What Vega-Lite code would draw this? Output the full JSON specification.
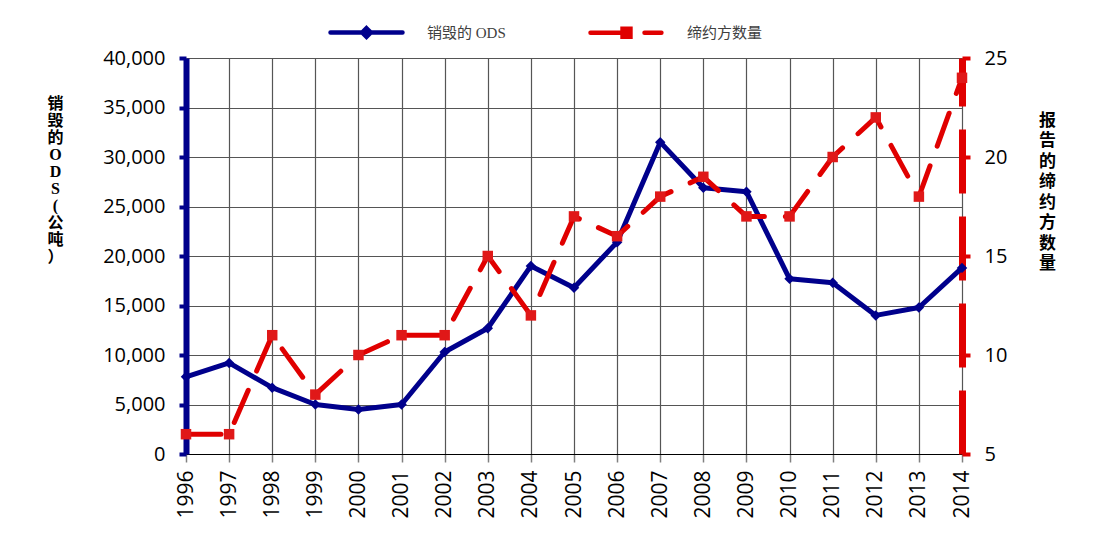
{
  "$schema": "https://vega.github.io/schema/vega-lite/v6.json",
  "width": 776,
  "height": 396,
  "autosize": {"type": "none"},
  "padding": {"left": 186, "top": 58, "right": 142, "bottom": 91},
  "background": "white",
  "config": {"view": {"stroke": null}, "font": "Open Sans"},
  "data": {"values": [
    {"year": 1996, "ods": 7800, "parties": 6},
    {"year": 1997, "ods": 9200, "parties": 6},
    {"year": 1998, "ods": 6700, "parties": 11},
    {"year": 1999, "ods": 5000, "parties": 8},
    {"year": 2000, "ods": 4500, "parties": 10},
    {"year": 2001, "ods": 5000, "parties": 11},
    {"year": 2002, "ods": 10300, "parties": 11},
    {"year": 2003, "ods": 12700, "parties": 15},
    {"year": 2004, "ods": 19000, "parties": 12},
    {"year": 2005, "ods": 16800, "parties": 17},
    {"year": 2006, "ods": 21400, "parties": 16},
    {"year": 2007, "ods": 31500, "parties": 18},
    {"year": 2008, "ods": 26900, "parties": 19},
    {"year": 2009, "ods": 26500, "parties": 17},
    {"year": 2010, "ods": 17700, "parties": 17},
    {"year": 2011, "ods": 17300, "parties": 20},
    {"year": 2012, "ods": 14000, "parties": 22},
    {"year": 2013, "ods": 14800, "parties": 18},
    {"year": 2014, "ods": 18800, "parties": 24}
  ]},
  "resolve": {"scale": {"y": "independent"}, "axis": {"y": "independent"}},
  "encoding": {
    "x": {
      "field": "year", "type": "ordinal",
      "scale": {"type": "point", "padding": 0},
      "axis": {
        "title": null, "labelAngle": 270, "labelFontSize": 21, "labelColor": "#000",
        "labelPadding": 8, "tickSize": 8, "tickColor": "#808080", "tickWidth": 1.5,
        "domainColor": "#000", "domainWidth": 1.2, "grid": true, "gridColor": "#555", "gridWidth": 1.2,
        "labelFlush": false, "labelOverlap": false
      }
    }
  },
  "layer": [
    {
      "encoding": {
        "y": {
          "field": "ods", "type": "quantitative",
          "scale": {"domain": [0, 40000], "nice": false},
          "axis": {
            "title": ["销", "毁", "的", "O", "D", "S", "(", "公", "吨", "）"],
            "titleAngle": 0, "titleX": -131, "titleY": 37, "titleAlign": "center", "titleBaseline": "top",
            "titleFontSize": 16, "titleLineHeight": 17, "titleFont": "Liberation Serif, Noto Sans CJK SC",
            "titleFontWeight": "bold", "titleColor": "#000",
            "values": [0, 5000, 10000, 15000, 20000, 25000, 30000, 35000, 40000],
            "format": ",.0f", "labelFontSize": 20, "labelPadding": 14, "labelColor": "#000", "labelFlush": false,
            "domainColor": "#00008C", "domainWidth": 6, "tickColor": "#00008C", "tickSize": 7, "tickWidth": 4,
            "grid": true, "gridColor": "#555", "gridWidth": 1.2
          }
        }
      },
      "layer": [
        {
          "mark": {"type": "line", "strokeWidth": 5, "strokeJoin": "round"},
          "encoding": {
            "color": {
              "datum": "销毁的 ODS", "type": "nominal",
              "scale": {"domain": ["销毁的 ODS", "缔约方数量"], "range": ["#00008C", "#E00000"]},
              "legend": {
                "orient": "none", "legendX": 142, "legendY": -64, "direction": "horizontal", "title": null,
                "symbolSize": 5184, "symbolStrokeWidth": 4.5,
                "labelFont": "Liberation Serif, Noto Sans CJK SC", "labelFontSize": 15, "labelColor": "#404040",
                "labelOffset": 22, "columnPadding": 75, "padding": 0,
                "encode": {"symbols": {"update": {
                  "shape": {"signal": "datum.value === '销毁的 ODS' ? 'M-1,0H1M0,-0.12L0.12,0L0,0.12L-0.12,0Z' : 'M-1,0H0M-0.11,-0.11H0.11V0.11H-0.11ZM0.5,0H0.97'"},
                  "fill": {"signal": "scale('color', datum.value)"},
                  "stroke": {"signal": "scale('color', datum.value)"},
                  "strokeWidth": {"value": 4.5},
                  "strokeCap": {"value": "round"},
                  "opacity": {"value": 1}
                }}}
              }
            }
          }
        },
        {"mark": {"type": "point", "shape": "diamond", "filled": true, "size": 110, "color": "#00008C", "opacity": 1}}
      ]
    },
    {
      "encoding": {
        "y": {
          "field": "parties", "type": "quantitative",
          "scale": {"domain": [5, 25], "nice": false},
          "axis": {
            "orient": "right",
            "title": ["报", "告", "的", "缔", "约", "方", "数", "量"],
            "titleAngle": 0, "titleX": 85, "titleY": 54, "titleAlign": "center", "titleBaseline": "top",
            "titleFontSize": 17, "titleLineHeight": 20.5, "titleFont": "Noto Sans CJK SC",
            "titleFontWeight": "bold", "titleColor": "#000",
            "values": [5, 10, 15, 20, 25],
            "labelFontSize": 20, "labelPadding": 14, "labelColor": "#000", "labelFlush": false,
            "domainColor": "#E00000", "domainWidth": 7, "domainDash": [64, 23],
            "tickColor": "#E00000", "tickSize": 8, "tickWidth": 4, "grid": false
          }
        }
      },
      "layer": [
        {
          "mark": {"type": "line", "strokeWidth": 5, "strokeDash": [35, 21], "strokeCap": "round", "strokeJoin": "round"},
          "encoding": {"color": {"datum": "缔约方数量", "type": "nominal"}}
        },
        {"mark": {"type": "point", "shape": "square", "filled": true, "size": 110, "color": "#E01818", "opacity": 1}}
      ]
    }
  ]
}
